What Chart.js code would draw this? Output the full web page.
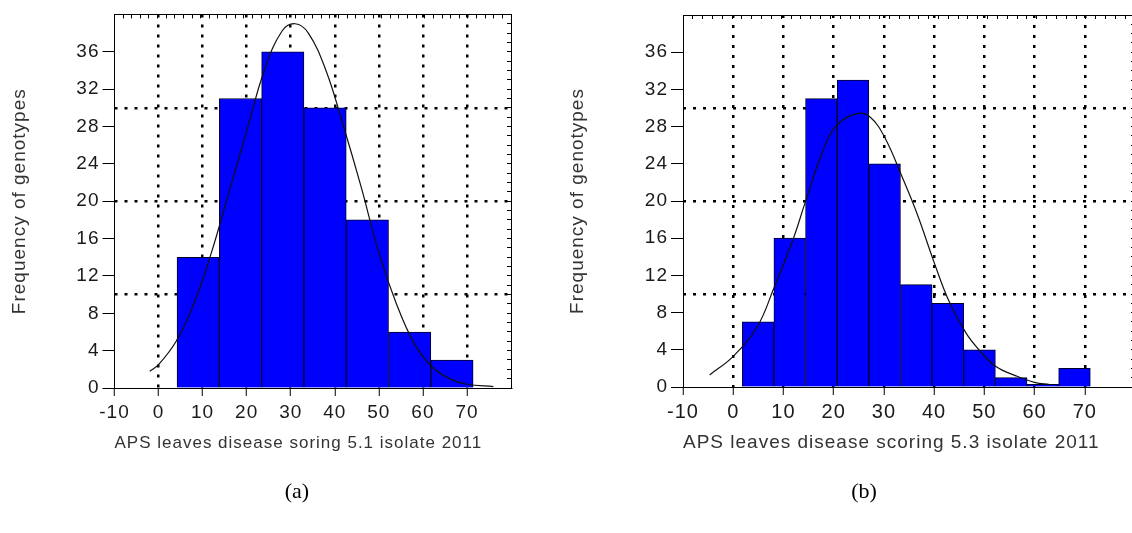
<!DOCTYPE html>
<html>
<head>
<meta charset="utf-8">
<script src="https://cdn.jsdelivr.net/npm/chart.js@4.4.1/dist/chart.umd.min.js"></script>
<style>
  html, body { margin: 0; padding: 0; background: #fff; }
  #page { position: relative; width: 1132px; height: 533px; overflow: hidden; }
  canvas { position: absolute; top: 0; }
  #chartA { left: 0; }
  #chartB { left: 560px; }
  .cap { position: absolute; top: 479px; width: 60px; text-align: center;
         font: 22px/24px "Liberation Serif", "Times New Roman", serif; color: #000; }
</style>
</head>
<body>
<div id="page">
  <canvas id="chartA" width="560" height="480"></canvas>
  <canvas id="chartB" width="600" height="480"></canvas>
  <div class="cap" style="left:267px">(a)</div>
  <div class="cap" style="left:834px">(b)</div>
</div>
<script>
// tick labels and grid positions (shared by both panels)
const xTickValues = [-10, 0, 10, 20, 30, 40, 50, 60, 70];
const yTickValues = [0, 4, 8, 12, 16, 20, 24, 28, 32, 36];
const hGridValues = [10, 20, 30];

// (a) APS leaves disease soring 5.1 isolate 2011
const binsA = [9.0, 18.6, 28.2, 37.8, 47.4, 57.0, 66.6];
const countsA = [14, 31, 36, 30, 18, 6, 3];
const curveAx = [-2, 0, 4, 8, 12, 16, 20, 24, 28, 31, 34, 38, 42, 46, 50, 54, 58, 62, 66, 70, 76];
const curveAy = [1.8, 2.5, 5, 9, 14.5, 21, 27.5, 34, 38.2, 39, 38, 34, 28, 21.5, 14.5, 9, 4.8, 2.3, 1, 0.4, 0.15];

// (b) APS leaves disease scoring 5.3 isolate 2011
const binsB = [4.95, 11.25, 17.55, 23.85, 30.15, 36.45, 42.75, 49.05, 55.35, 61.65, 67.95];
const countsB = [7, 16, 31, 33, 24, 11, 9, 4, 1, 0.3, 2];
const curveBx = [-4.7, 0, 4.7, 8, 12, 14.3, 17.8, 20.7, 24.7, 27.3, 30.2, 33.7, 36.7, 40, 42.9, 46.3, 49.1, 52.3, 56.3, 60, 63];
const curveBy = [1.3, 3.3, 6.4, 10.5, 16, 19.8, 25.3, 28.2, 29.4, 29, 26.8, 22.5, 18.5, 13.4, 9.3, 5.85, 3.9, 2.2, 1.2, 0.5, 0.25];

const family = '"Liberation Sans", Arial, sans-serif';
const dotted = [3, 7];
const clear = 'rgba(0,0,0,0)';

// the old plot software spaces its letters out a little
const spacing = { id: 'spacing', beforeDraw(chart) { chart.ctx.letterSpacing = '1px'; } };

const useTicks = (vals) => (s) => { s.ticks = vals.map(v => ({ value: v })); };

function histogram(id, cfg) {
  return new Chart(document.getElementById(id), {
    type: 'bar',
    data: {
      datasets: [
        {
          type: 'line',
          data: cfg.curveX.map((x, i) => ({ x: x, y: cfg.curveY[i] })),
          borderColor: '#111', borderWidth: 1.2, pointRadius: 0, tension: 0.4,
          xAxisID: 'x', yAxisID: 'y', order: 0
        },
        {
          type: 'bar',
          data: cfg.bins.map((x, i) => ({ x: x, y: cfg.counts[i] })),
          backgroundColor: '#0000ff', borderColor: '#00002a', borderWidth: 1,
          barPercentage: 1, categoryPercentage: 1,
          xAxisID: 'x', yAxisID: 'y', order: 1
        }
      ]
    },
    options: {
      responsive: false,
      animation: false,
      layout: { padding: { left: 0, top: cfg.top, right: cfg.padRight, bottom: 0 } },
      plugins: { legend: { display: false }, tooltip: { enabled: false } },
      scales: {
        x: {
          type: 'linear', position: 'bottom', min: -10, max: 80, offset: false,
          afterBuildTicks: useTicks(xTickValues),
          afterFit: s => { s.height = cfg.xAxisH; },
          grid: {
            offset: false, lineWidth: 2.5, tickLength: 8, tickColor: '#000', tickWidth: 1,
            color: c => (c.tick && c.tick.value >= 0 && c.tick.value <= 70) ? '#000' : clear
          },
          border: { color: '#000', width: 1, dash: dotted },
          ticks: { color: '#1a1a1a', font: { family: family, size: cfg.xTickSize }, padding: 5, maxRotation: 0, autoSkip: false },
          title: {
            display: true, text: cfg.xTitle, align: 'start', color: '#333',
            font: { family: family, size: cfg.xTitleSize }, padding: { top: 4, bottom: 26 }
          }
        },
        y: {
          type: 'linear', position: 'left', min: 0, max: 40,
          afterBuildTicks: useTicks(yTickValues),
          afterFit: s => { s.width = cfg.yAxisW; },
          grid: { drawOnChartArea: false, tickLength: 12, tickColor: '#000', tickWidth: 1 },
          border: { color: '#000', width: 1 },
          ticks: { color: '#1a1a1a', font: { family: family, size: 19 }, padding: 3 },
          title: {
            display: true, text: 'Frequency of genotypes', color: '#333',
            font: { family: family, size: 19 }, padding: { top: cfg.yTitlePad, bottom: 0 }
          }
        },
        yGrid: {
          axis: 'y', type: 'linear', position: 'right', min: 0, max: 40,
          afterBuildTicks: useTicks(hGridValues),
          afterFit: s => { s.width = 0; },
          ticks: { display: false },
          grid: { drawTicks: false, color: '#000', lineWidth: 2.5 },
          border: { display: false, dash: dotted }
        },
        xTop: {
          axis: 'x', type: 'linear', position: 'top', min: -10, max: 80,
          afterFit: s => { s.height = 0; },
          ticks: { display: false, stepSize: 2 },
          grid: { drawOnChartArea: false, tickLength: -4, tickColor: '#000', tickWidth: 1 },
          border: { color: '#000', width: 1 }
        },
        yRight: {
          axis: 'y', type: 'linear', position: 'right', min: 0, max: 40,
          afterFit: s => { s.width = 0; },
          ticks: { display: false, stepSize: 1 },
          grid: { drawOnChartArea: false, tickLength: -4, tickColor: '#000', tickWidth: 1 },
          border: { color: '#000', width: 1 }
        }
      }
    },
    plugins: [spacing]
  });
}

histogram('chartA', {
  bins: binsA, counts: countsA, curveX: curveAx, curveY: curveAy,
  xTitle: 'APS leaves disease soring 5.1 isolate 2011',
  top: 14, padRight: 49, xAxisH: 92, yAxisW: 114.5, yTitlePad: 8.6,
  xTickSize: 19, xTitleSize: 17
});

histogram('chartB', {
  bins: binsB, counts: countsB, curveX: curveBx, curveY: curveBy,
  xTitle: 'APS leaves disease scoring 5.3 isolate 2011',
  top: 15, padRight: 25, xAxisH: 93, yAxisW: 123, yTitlePad: 6.6,
  xTickSize: 20, xTitleSize: 19
});
</script>
</body>
</html>
